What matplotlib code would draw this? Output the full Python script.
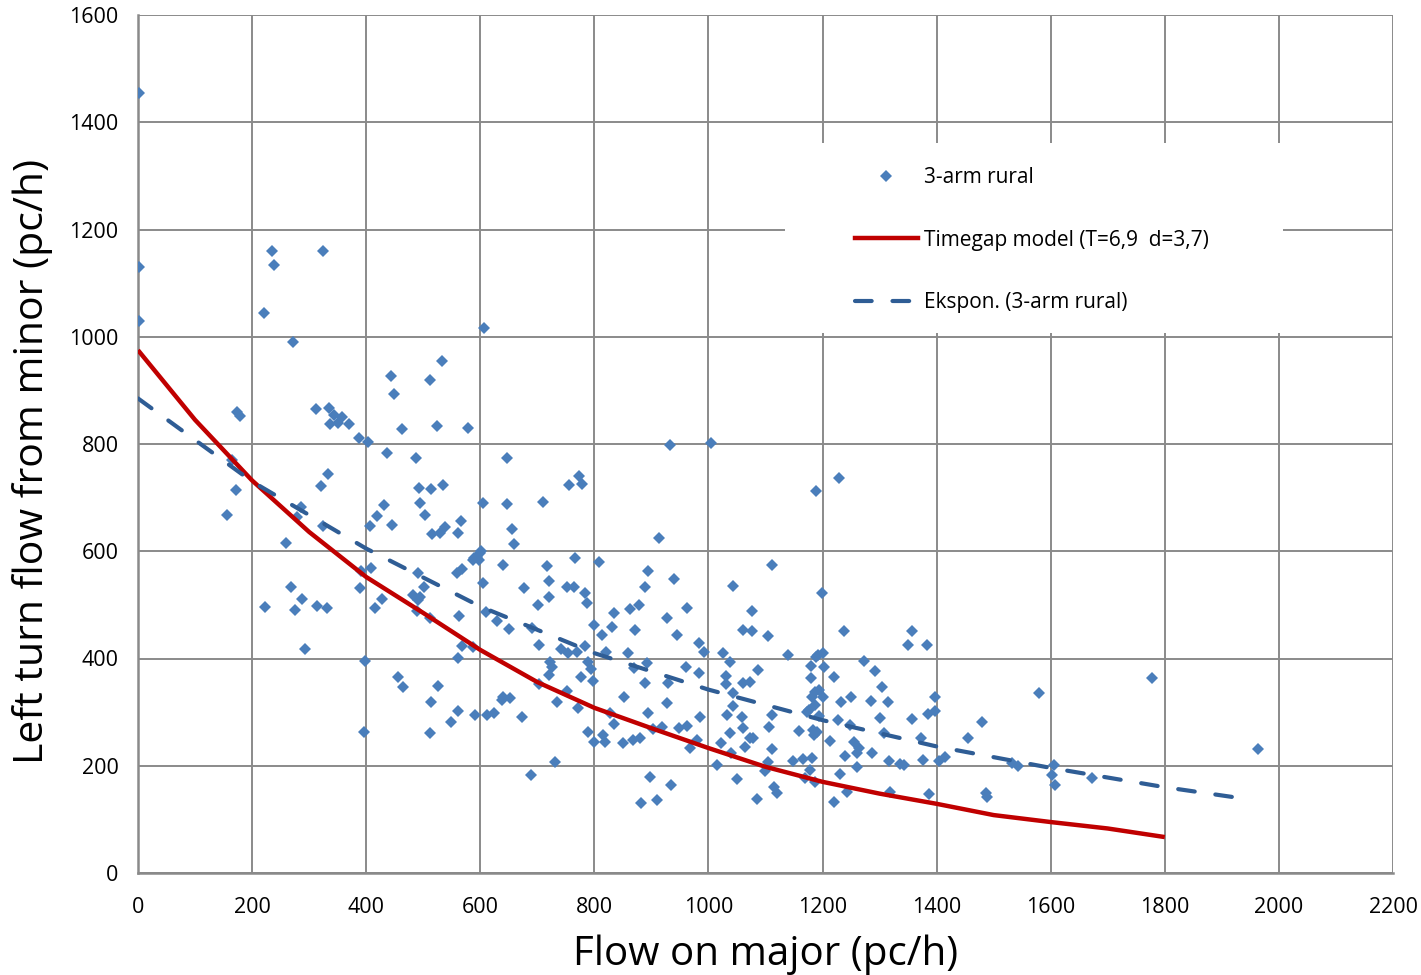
import matplotlib
matplotlib.use("Agg")
import matplotlib.pyplot as plt
from matplotlib.lines import Line2D
from matplotlib.patches import Rectangle

plt.rcParams['font.family'] = ['Open Sans', 'DejaVu Sans']

# ---- data ----
obs_x = [2, 2, 2, 156, 165, 172, 174, 179, 221, 223, 235, 238,
         259, 268, 272, 275, 279, 286, 287, 293,
         312, 314, 321, 324, 324, 331, 333, 335, 337, 344, 351, 358, 370,
         387, 389, 391, 396, 398, 403, 407, 408, 415, 419, 428, 431, 436, 443, 445, 449,
         456, 463, 464, 482, 487, 489, 491, 491, 492, 494, 494, 501, 503,
         511, 512, 512, 513, 513, 515, 524, 526, 529, 533, 534, 538, 549, 559, 561, 561, 561,
         563, 566, 568, 568, 578, 587, 587, 589, 591,
         594, 597, 599, 601, 605, 605, 606, 610, 612, 624, 629, 638, 640, 640, 647, 647, 650,
         652, 656, 659, 673, 677, 689, 691, 701, 703, 703, 710, 717, 720, 720, 720, 722, 726,
         731, 734, 741, 752, 752, 754, 755, 764, 766, 769, 771, 773, 777, 778, 784, 784, 787,
         789, 789, 794, 797, 799, 799, 808, 813, 815, 819, 820, 827, 831, 834, 834, 850, 852,
         859, 862, 868, 869, 871, 878, 880, 882, 889, 889, 892, 894, 894, 897, 903, 910, 913,
         918, 927, 927, 929, 933, 934, 940, 945, 948, 961, 962, 962, 968, 980, 983, 983, 985,
         992, 1004, 1015, 1022, 1025, 1031, 1031, 1032, 1038, 1038, 1039, 1043, 1043, 1043,
         1050, 1058, 1060, 1060, 1060, 1064, 1073, 1073, 1076, 1076, 1078, 1085, 1087, 1099,
         1104, 1104, 1106, 1111, 1111, 1111, 1115, 1120, 1139, 1148, 1159, 1166, 1169, 1172,
         1176, 1178, 1180, 1180, 1181, 1181, 1183, 1185, 1187, 1187, 1187, 1188, 1189, 1190,
         1192, 1194, 1194, 1199, 1201, 1201, 1202, 1213, 1220, 1220, 1227, 1229, 1230, 1232,
         1238, 1239, 1242, 1248, 1250, 1255, 1260, 1260, 1264, 1273, 1285, 1287, 1292, 1301,
         1304, 1307, 1314, 1316, 1318, 1336, 1343, 1350, 1357, 1357, 1372, 1376, 1383, 1385,
         1387, 1397, 1397, 1404, 1414, 1455, 1479, 1486, 1488, 1532, 1542, 1579, 1602, 1606,
         1607, 1672, 1777, 1963]
obs_y = [1455, 1130, 1030, 668, 770, 714, 860, 853, 1045, 496, 1160, 1134,
         616, 534, 991, 491, 664, 683, 511, 418,
         866, 498, 722, 1160, 647, 494, 744, 868, 838, 854, 840, 851, 838,
         812, 532, 563, 263, 396, 804, 647, 569, 494, 666, 511, 687, 784, 927, 649, 894,
         366, 828, 347, 518, 774, 489, 509, 560, 718, 515, 690, 534, 668,
         261, 476, 920, 716, 319, 632, 834, 349, 634, 955, 724, 646, 282, 560, 634, 401, 302,
         479, 657, 567, 423, 830, 584, 422, 588, 295,
         590, 584, 597, 601, 690, 541, 1017, 487, 295, 299, 470, 323, 328, 574, 774, 688, 455,
         326, 642, 614, 291, 531, 183, 457, 500, 425, 352, 692, 573, 545, 515, 369, 394, 384,
         207, 319, 418, 533, 340, 410, 724, 534, 588, 412, 308, 741, 366, 726, 522, 423, 504,
         393, 263, 380, 358, 463, 244, 580, 444, 257, 244, 412, 298, 459, 485, 278, 243, 328,
         410, 493, 248, 383, 453, 500, 252, 131, 534, 355, 392, 563, 298, 179, 269, 136, 625,
         272, 476, 317, 355, 798, 164, 548, 444, 271, 384, 494, 274, 233, 248, 429, 373, 291,
         412, 802, 201, 243, 410, 368, 352, 295, 394, 261, 224, 535, 336, 312,
         175, 291, 453, 354, 271, 235, 356, 252, 489, 451, 252, 138, 379, 190,
         442, 207, 272, 575, 295, 231, 160, 149, 407, 209, 265, 213, 177, 300,
         304, 192, 386, 364, 214, 328, 267, 257, 338, 313, 170, 403, 713, 263,
         407, 341, 293, 522, 410, 328, 384, 246, 366, 132, 285, 737, 185, 319,
         451, 218, 151, 276, 328, 244, 224, 198, 233, 396, 321, 224, 377, 289,
         347, 261, 319, 209, 151, 203, 201, 425, 451, 287, 252, 211, 425, 297,
         148, 328, 302, 209, 216, 252, 282, 149, 142, 205, 200, 336, 183, 201,
         164, 177, 364, 231]

model_x = [0, 100, 200, 300, 400, 500, 600, 700, 800, 900, 1000, 1100, 1200,
           1300, 1400, 1500, 1600, 1700, 1800]
model_y = [975, 845, 732, 636, 552, 485, 416, 356, 308, 270, 233, 198, 170,
           148, 129, 108, 95, 83, 67]

trend_x = [0, 200, 400, 600, 800, 1000, 1200, 1400, 1600, 1800, 1930]
trend_y = [885, 730, 605, 497, 410, 342, 285, 236, 196, 160, 140]

x_ticks = list(range(0, 2201, 200))
y_ticks = list(range(0, 1601, 200))

labels = ['3-arm rural', 'Timegap model (T=6,9  d=3,7)', 'Ekspon. (3-arm rural)']

# ---- figure ----
W, H = 1421, 975
fig = plt.figure(figsize=(W / 100, H / 100), dpi=100)
ax = fig.add_axes([138 / W, 1 - 873 / H, (1393 - 138) / W, (873 - 15) / H])

grid_c = '#8a8a8a'
blue = '#4a7ebb'
red = '#c00000'
dblue = '#2f5d95'

ax.set_xlim(0, 2200)
ax.set_ylim(0, 1600)
ax.set_xticks(x_ticks)
ax.set_yticks(y_ticks)
ax.grid(True, color=grid_c, linewidth=1.4, zorder=0)
ax.set_axisbelow(True)
for s in ['top', 'right']:
    ax.spines[s].set_visible(False)
for s in ['left', 'bottom']:
    ax.spines[s].set_color(grid_c)
    ax.spines[s].set_linewidth(1.8)
ax.tick_params(length=0, labelsize=15.5, colors='black')
ax.tick_params(axis='y', pad=14)
ax.tick_params(axis='x', pad=17)

ax.plot(obs_x, obs_y, linestyle='none', marker='D', markersize=5.8,
        color=blue, markeredgewidth=0, zorder=3)
ax.plot(model_x, model_y, color=red, linewidth=3.2, zorder=4,
        solid_capstyle='butt')
ax.plot(trend_x, trend_y, color=dblue, linewidth=3.0, dashes=(4, 5),
        dash_capstyle='round', zorder=5)

ax.set_xlabel('Flow on major (pc/h)', fontsize=29, labelpad=12)
ax.set_ylabel('Left turn flow from minor (pc/h)', fontsize=29.5)
ax.yaxis.set_label_coords(-0.0677, 0.48)

# white legend background box (covers the grid)
fig.patches.append(Rectangle((785 / W, 1 - 333 / H), (1283 - 785) / W, (333 - 143) / H,
                             transform=fig.transFigure, facecolor='white',
                             edgecolor='none', zorder=8))

handles = [
    Line2D([], [], linestyle='none', marker='D', markersize=5.8,
           color=blue, markeredgewidth=0),
    Line2D([], [], color=red, linewidth=3.2),
    Line2D([], [], color=dblue, linewidth=3.0, dashes=(4, 5),
           dash_capstyle='round'),
]
leg = fig.legend(handles, labels, loc='upper left',
                 bbox_to_anchor=(855 / W, 1 - 167 / H),
                 bbox_transform=fig.transFigure,
                 fontsize=15, frameon=False,
                 handlelength=3.0, handletextpad=0.3, labelspacing=2.0,
                 borderpad=0, borderaxespad=0)
leg.set_zorder(10)

fig.savefig('out.png', dpi=100)
